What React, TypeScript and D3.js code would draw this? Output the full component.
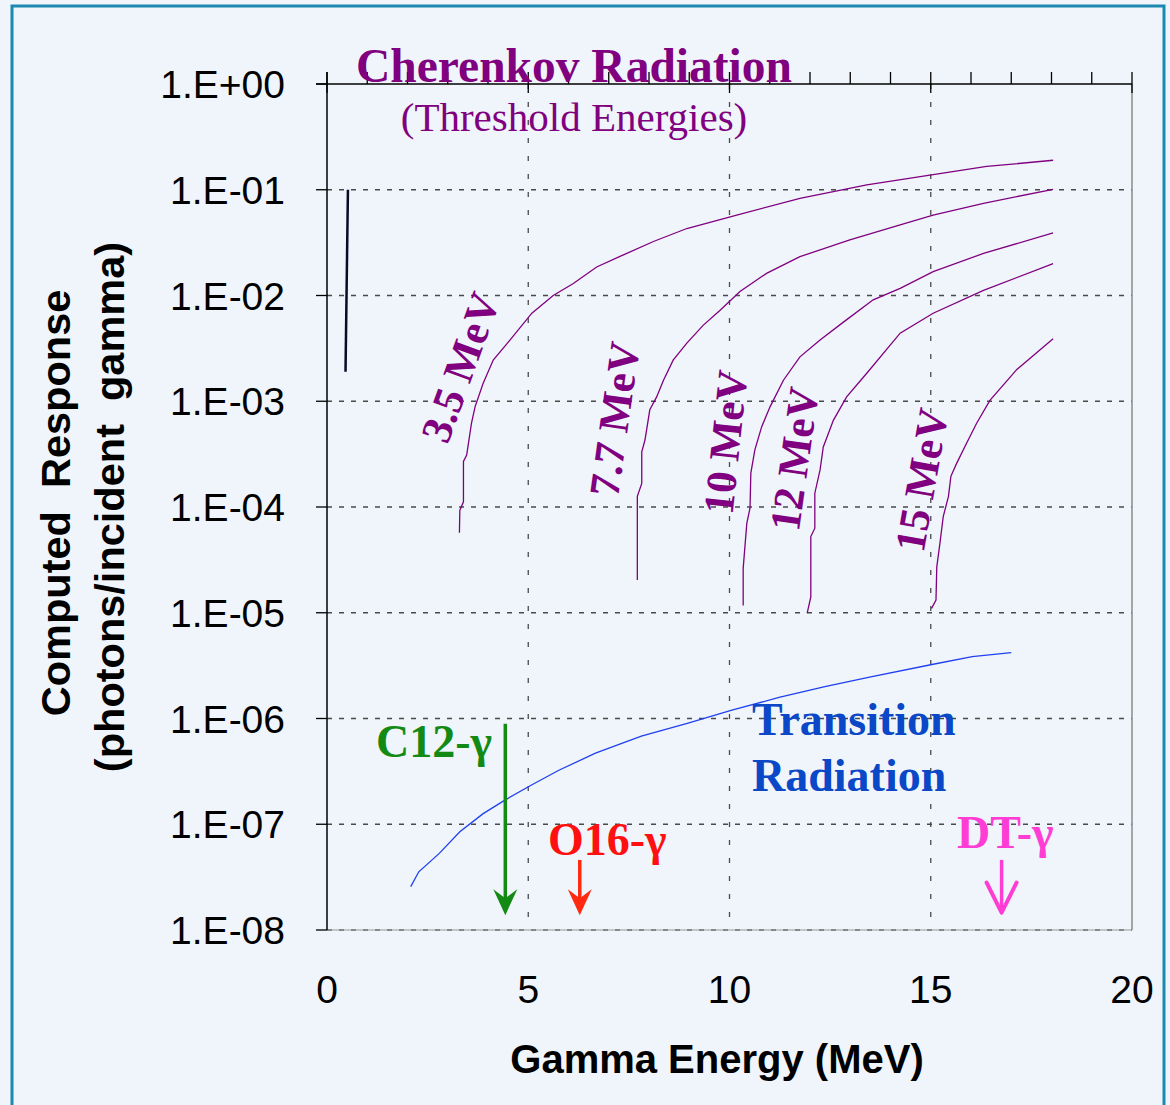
import React from "react";
import * as d3 from "d3";

const W = 1170;
const H = 1105;

// axis ticks
const xTickValues = [0, 5, 10, 15, 20];
const xTickLabels = ["0", "5", "10", "15", "20"];
const xMinorTickValues = [0, 1, 2, 3, 4, 5, 6, 7, 8, 9, 10, 11, 12, 13, 14, 15, 16, 17, 18, 19, 20];
const yTickValues = [1, 1e-1, 1e-2, 1e-3, 1e-4, 1e-5, 1e-6, 1e-7, 1e-8];
const yTickLabels = ["1.E+00", "1.E-01", "1.E-02", "1.E-03", "1.E-04", "1.E-05", "1.E-06", "1.E-07", "1.E-08"];

// Cherenkov responses [MeV, photons/incident gamma]
const cher35: [number, number][] = [
  [3.29, 5.7e-5], [3.3, 9.3e-5], [3.39, 1.12e-4], [3.39, 2.7e-4], [3.47, 3.1e-4], [3.59, 6.2e-4],
  [3.68, 8.9e-4], [3.88, 1.48e-3], [4.13, 2.45e-3], [4.55, 3.8e-3], [5.09, 6.8e-3], [5.62, 1.0e-2],
  [6.12, 1.3e-2], [6.7, 1.86e-2], [7.28, 2.34e-2], [8.11, 3.24e-2], [8.94, 4.3e-2], [10.18, 5.75e-2],
  [11.75, 8.3e-2], [13.41, 0.111], [15.02, 0.138], [16.39, 0.166], [18.04, 0.19],
];
const cher77: [number, number][] = [
  [7.71, 2.04e-5], [7.71, 1.26e-4], [7.82, 1.67e-4], [7.82, 3.33e-4], [7.9, 4.3e-4], [8.02, 8.3e-4],
  [8.19, 1.1e-3], [8.36, 1.58e-3], [8.6, 2.45e-3], [8.94, 3.55e-3], [9.35, 5.25e-3], [9.76, 7.2e-3],
  [10.26, 1.09e-2], [10.92, 1.62e-2], [11.75, 2.33e-2], [12.99, 3.35e-2], [14.24, 4.65e-2],
  [15.06, 5.75e-2], [16.31, 7.45e-2], [18.04, 0.101],
];
const cher10: [number, number][] = [
  [10.34, 1.17e-5], [10.34, 2.63e-5], [10.43, 7.0e-5], [10.51, 9.8e-5], [10.53, 2.09e-4], [10.63, 3.47e-4],
  [10.8, 5.75e-4], [11.01, 8.9e-4], [11.34, 1.58e-3], [11.75, 2.63e-3], [12.25, 3.8e-3], [12.83, 5.6e-3],
  [13.57, 9.1e-3], [14.24, 1.17e-2], [15.06, 1.68e-2], [16.31, 2.5e-2], [18.04, 3.9e-2],
];
const cher12: [number, number][] = [
  [11.93, 9.9e-6], [12.02, 1.41e-5], [12.02, 5.25e-5], [12.12, 6.3e-5], [12.12, 1.35e-4], [12.25, 2.24e-4],
  [12.33, 3.7e-4], [12.58, 6.6e-4], [12.91, 1.1e-3], [13.41, 1.84e-3], [14.24, 4.4e-3], [15.06, 6.8e-3],
  [16.31, 1.12e-2], [18.04, 2.0e-2],
];
const cher15: [number, number][] = [
  [15.02, 1.1e-5], [15.13, 1.32e-5], [15.15, 2.72e-5], [15.23, 4.6e-5], [15.31, 8.1e-5], [15.44, 1.26e-4],
  [15.5, 1.95e-4], [15.64, 2.57e-4], [15.89, 4.0e-4], [16.14, 6.2e-4], [16.47, 1.02e-3], [17.14, 2.0e-3],
  [18.04, 3.9e-3],
];
const transition: [number, number][] = [
  [2.08, 2.57e-8], [2.28, 3.55e-8], [2.79, 5.3e-8], [3.3, 8.5e-8], [3.88, 1.26e-7], [4.43, 1.7e-7],
  [5.07, 2.34e-7], [5.76, 3.24e-7], [6.67, 4.7e-7], [7.81, 6.8e-7], [8.95, 9.0e-7], [10.06, 1.2e-6],
  [11.23, 1.58e-6], [12.37, 2.0e-6], [13.51, 2.48e-6], [15.03, 3.24e-6], [16.03, 3.85e-6], [17.0, 4.2e-6],
];
const blackMark: [number, number][] = [[0.52, 0.1], [0.46, 0.0019]];

const cherenkovLabels = ["3.5 MeV", "7.7 MeV", "10 MeV", "12 MeV", "15 MeV"];
const cherenkovLabelPos: [number, number][] = [[3.3, 2.1e-3], [7.13, 6.8e-4], [9.89, 4.1e-4], [11.6, 2.85e-4], [14.76, 1.8e-4]];
const cherenkovLabelAngle = [-70, -82, -84, -82, -80];

// gamma lines: energy, arrow top, arrow tip
const gammaNames = ["C12-γ", "O16-γ", "DT-γ"];
const gammaEnergy = [4.43, 6.28, 16.76];
const gammaTop = [8.9e-7, 4.6e-8, 4.6e-8];
const gammaTip = [1.38e-8, 1.38e-8, 1.46e-8];

const PURPLE = "#800080";
const SERIF = "'Liberation Serif', 'Times New Roman', Times, serif";
const SANS = "'Liberation Sans', Arial, Helvetica, sans-serif";

export default function App() {
  const x = d3.scaleLinear().domain([0, 20]).range([327, 1132]);
  const y = d3.scaleLog().domain([1e-8, 1]).range([930, 84]);
  const line = d3
    .line<[number, number]>()
    .x((d) => x(d[0]))
    .y((d) => y(d[1]));

  const gammaColors = ["#138a13", "#ff2a10", "#ff3dd5"];
  const gammaTextColors = ["#138a13", "#ff1010", "#ff3dd5"];

  return (
    <div style={{ position: "absolute", left: 0, top: 0 }}>
      <svg width={W} height={H} style={{ display: "block" }}>
        <rect x={0} y={0} width={W} height={H} fill="#eff5fa" />
        <rect x={12} y={6} width={1152} height={1110} fill="#eff5fa" stroke="#1a8ab0" strokeWidth={3} />

        {/* gridlines */}
        {yTickValues.slice(1).map((v, i) => (
          <line key={"hg" + i} x1={x(0)} x2={x(20)} y1={y(v)} y2={y(v)} stroke="#4a4a4a" strokeWidth={1.3} strokeDasharray="5 7" />
        ))}
        {xTickValues.slice(1, 4).map((v, i) => (
          <line key={"vg" + i} x1={x(v)} x2={x(v)} y1={y(1)} y2={y(1e-8)} stroke="#4a4a4a" strokeWidth={1.3} strokeDasharray="5 13" />
        ))}
        {/* right and bottom frame of plot */}
        <line x1={x(20)} x2={x(20)} y1={y(1)} y2={y(1e-8)} stroke="#8a8a8a" strokeWidth={1.5} />
        <line x1={x(0)} x2={x(20)} y1={y(1e-8)} y2={y(1e-8)} stroke="#9a9a9a" strokeWidth={1.2} />

        {/* top axis */}
        <line x1={316} x2={x(20)} y1={y(1)} y2={y(1)} stroke="#000" strokeWidth={1.5} />
        {xMinorTickValues.map((v, i) => (
          <line key={"mt" + i} x1={x(v)} x2={x(v)} y1={y(1) - 12} y2={v % 5 === 0 ? y(1) + 9 : y(1)} stroke="#000" strokeWidth={1.3} />
        ))}
        {/* left axis */}
        <line x1={x(0)} x2={x(0)} y1={y(1) - 12} y2={y(1e-8)} stroke="#000" strokeWidth={1.5} />
        {yTickValues.map((v, i) => (
          <line key={"yt" + i} x1={316} x2={x(0)} y1={y(v)} y2={y(v)} stroke="#000" strokeWidth={1.3} />
        ))}
        {yTickValues.map((v, i) => (
          <text key={"yl" + i} x={285} y={y(v) + 14} textAnchor="end" fontFamily={SANS} fontSize={39} fill="#000">
            {yTickLabels[i]}
          </text>
        ))}
        {xTickValues.map((v, i) => (
          <text key={"xl" + i} x={x(v)} y={1003} textAnchor="middle" fontFamily={SANS} fontSize={39} fill="#000">
            {xTickLabels[i]}
          </text>
        ))}

        {/* axis titles */}
        <text x={717} y={1073} textAnchor="middle" fontFamily={SANS} fontWeight="bold" fontSize={40} fill="#000">
          Gamma Energy (MeV)
        </text>
        <text transform="translate(70,503) rotate(-90)" textAnchor="middle" fontFamily={SANS} fontWeight="bold" fontSize={41.5} fill="#000" style={{ whiteSpace: "pre" }}>
          {"Computed  Response"}
        </text>
        <text transform="translate(124,507) rotate(-90)" textAnchor="middle" fontFamily={SANS} fontWeight="bold" fontSize={41.5} fill="#000" style={{ whiteSpace: "pre" }}>
          {"(photons/incident  gamma)"}
        </text>

        {/* data */}
        <path d={line(blackMark) || ""} fill="none" stroke="#0a0a28" strokeWidth={2.5} />
        {[cher35, cher77, cher10, cher12, cher15].map((c, i) => (
          <path key={"ch" + i} d={line(c) || ""} fill="none" stroke={PURPLE} strokeWidth={1.3} />
        ))}
        <path d={line(transition) || ""} fill="none" stroke="#2040f0" strokeWidth={1.3} />

        {/* Cherenkov title */}
        <text x={574} y={82} textAnchor="middle" fontFamily={SERIF} fontWeight="bold" fontSize={47.5} fill={PURPLE}>
          Cherenkov Radiation
        </text>
        <text x={574} y={131} textAnchor="middle" fontFamily={SERIF} fontSize={41} fill={PURPLE}>
          (Threshold Energies)
        </text>

        {cherenkovLabels.map((t, i) => (
          <text
            key={"cl" + i}
            transform={`translate(${x(cherenkovLabelPos[i][0])},${y(cherenkovLabelPos[i][1])}) rotate(${cherenkovLabelAngle[i]})`}
            textAnchor="middle"
            dy="0.35em"
            fontFamily={SERIF}
            fontWeight="bold"
            fontSize={43}
            fill={PURPLE}
          >
            {t}
          </text>
        ))}

        {/* Transition Radiation label */}
        <text x={752} y={735} fontFamily={SERIF} fontWeight="bold" fontSize={46} fill="#0a48c8">
          Transition
        </text>
        <text x={752} y={791} fontFamily={SERIF} fontWeight="bold" fontSize={46} fill="#0a48c8">
          Radiation
        </text>

        {/* gamma arrows */}
        {gammaNames.map((g, i) => {
          const gx = x(gammaEnergy[i]);
          const top = y(gammaTop[i]);
          const tip = y(gammaTip[i]);
          const col = gammaColors[i];
          if (i === 2) {
            return (
              <g key={"ga" + i}>
                <line x1={gx} x2={gx} y1={top} y2={tip - 2} stroke={col} strokeWidth={3.5} />
                <path d={`M${gx - 15},${tip - 30} L${gx},${tip} L${gx + 15},${tip - 30}`} fill="none" stroke={col} strokeWidth={4} strokeLinecap="round" strokeLinejoin="round" />
              </g>
            );
          }
          return (
            <g key={"ga" + i}>
              <line x1={gx} x2={gx} y1={top} y2={tip - 12} stroke={col} strokeWidth={3.5} />
              <path d={`M${gx},${tip} L${gx - 12},${tip - 26} L${gx},${tip - 17} L${gx + 12},${tip - 26} Z`} fill={col} />
            </g>
          );
        })}
        <text x={492} y={757} textAnchor="end" fontFamily={SERIF} fontWeight="bold" fontSize={46} fill={gammaTextColors[0]}>
          {gammaNames[0]}
        </text>
        <text x={548} y={855} fontFamily={SERIF} fontWeight="bold" fontSize={46} fill={gammaTextColors[1]}>
          {gammaNames[1]}
        </text>
        <text x={957} y={848} fontFamily={SERIF} fontWeight="bold" fontSize={46} fill={gammaTextColors[2]}>
          {gammaNames[2]}
        </text>
      </svg>
    </div>
  );
}
